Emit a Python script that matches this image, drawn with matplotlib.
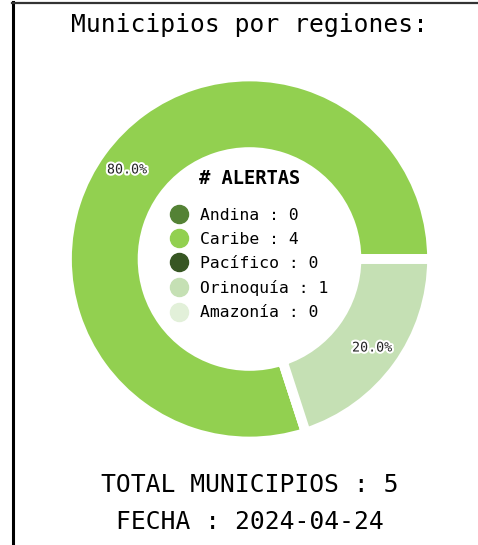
import matplotlib
matplotlib.use("Agg")
import matplotlib.pyplot as plt
from matplotlib.lines import Line2D
import matplotlib.patheffects as pe

# Alert counts per region
regions = ["Andina", "Caribe", "Pacífico", "Orinoquía", "Amazonía"]
alerts = [0, 4, 0, 1, 0]
colors = ["#548235", "#92D050", "#375623", "#C5E0B4", "#E2F0D9"]
report_date = "2024-04-24"
total = sum(alerts)

mono = "DejaVu Sans Mono"
W, H = 478, 545
fig = plt.figure(figsize=(W / 100, H / 100), dpi=100)
fig.patch.set_facecolor("white")

# donut geometry in pixels
cx, cy, R = 249.5, 259.0, 182.5
ax = fig.add_axes([(cx - R) / W, (H - cy - R) / H, 2 * R / W, 2 * R / H])


def pct_fmt(p):
    return f"{p:.1f}%" if p > 0 else ""


wedges, texts, autotexts = ax.pie(
    alerts,
    colors=colors,
    startangle=0,
    counterclock=True,
    autopct=pct_fmt,
    pctdistance=0.83,
    wedgeprops=dict(width=0.414, edgecolor="white", linewidth=7),
    textprops=dict(family=mono, fontsize=9.6, color="#222222"),
)
for t in autotexts:
    t.set_path_effects([pe.withStroke(linewidth=3, foreground="white")])
ax.set_xlim(-1, 1)
ax.set_ylim(-1, 1)
ax.set_aspect("equal")
ax.axis("off")

# legend in the donut hole
handles = [
    Line2D([], [], marker="o", linestyle="", markersize=13,
           markerfacecolor=c, markeredgecolor=c)
    for c in colors
]
labels = [f"{r} : {v}" for r, v in zip(regions, alerts)]
fig.text(cx / W, 1 - 178 / H, "# ALERTAS", family=mono, fontsize=13.5,
         weight="bold", ha="center", va="center")
leg = fig.legend(
    handles, labels,
    loc="center",
    bbox_to_anchor=(cx / W, 1 - 264 / H),
    frameon=False,
    prop=dict(family=mono, size=11.8),
    handlelength=1.0,
    handletextpad=0.8,
    labelspacing=0.56,
)

fig.text(cx / W, 1 - 25 / H, "Municipios por regiones:",
         family=mono, fontsize=17.7, ha="center", va="center")
fig.text(cx / W, 1 - 485 / H, f"TOTAL MUNICIPIOS : {total}",
         family=mono, fontsize=17.7, ha="center", va="center")
fig.text(cx / W, 1 - 522 / H, f"FECHA : {report_date}",
         family=mono, fontsize=17.7, ha="center", va="center")

# frame lines
fig.add_artist(Line2D([12.5 / W, 12.5 / W], [0, 1 - 2 / H],
                      transform=fig.transFigure, color="black", linewidth=2.2))
fig.add_artist(Line2D([12 / W, 1], [1 - 2.5 / H, 1 - 2.5 / H],
                      transform=fig.transFigure, color="#333333", linewidth=1.6))

fig.savefig("out.png", dpi=100, facecolor="white")
